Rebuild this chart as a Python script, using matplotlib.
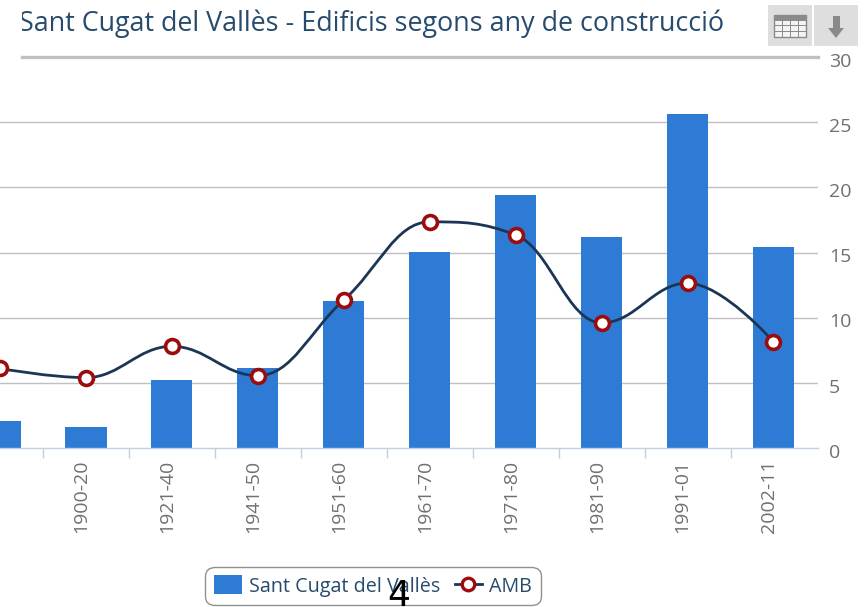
import matplotlib
matplotlib.use("Agg")
import matplotlib.pyplot as plt
from matplotlib.path import Path
from matplotlib.patches import PathPatch, Rectangle
from matplotlib.lines import Line2D
from matplotlib.transforms import Bbox, ScaledTranslation
import numpy as np

categories = ["", "1900-20", "1921-40", "1941-50", "1951-60", "1961-70", "1971-80", "1981-90", "1991-01", "2002-11"]
sant_cugat = [2.1, 1.6, 5.25, 6.15, 11.25, 15.05, 19.4, 16.2, 25.6, 15.4]
amb = [6.1, 5.4, 7.8, 5.55, 11.35, 17.35, 16.35, 9.6, 12.65, 8.15]
yticks = [0, 5, 10, 15, 20, 25, 30]
title = "Sant Cugat del Vallès - Edificis segons any de construcció"

W, H = 865, 607
TEXT = "#274b6d"
FONT = "Open Sans"
fig = plt.figure(figsize=(W / 100, H / 100), dpi=100)
plt.rcParams["font.family"] = [FONT, "DejaVu Sans"]

def fx(x): return x / W
def fy(y): return 1 - y / H

L, R, T, B = 0, 818, 57, 448
ax = fig.add_axes([fx(L), fy(B), fx(R - L), (B - T) / H])
x = np.arange(len(categories))
STEP = 86.7
X1 = 79.5
ax.set_xlim(1 - X1 / STEP, 1 + (R - X1) / STEP)
ax.set_ylim(0, 30)
for s in ["top", "left", "right"]:
    ax.spines[s].set_visible(False)
ax.spines["bottom"].set_color("#C0D0E0")
ax.spines["bottom"].set_linewidth(1.0)
ax.set_axisbelow(True)

for v in yticks[1:-1]:
    ax.axhline(v, color="#C0C0C0", lw=1.0, zorder=0)

ax.bar(x, sant_cugat, width=41.5 / STEP, color="#2E7BD6", zorder=2, label="Sant Cugat del Vallès")

def spline_path(xs, ys, smoothing=1.5):
    denom = smoothing + 1
    verts, codes = [(xs[0], ys[0])], [Path.MOVETO]
    n = len(xs)
    right_prev = (xs[0], ys[0])
    for i in range(1, n):
        px, py = xs[i], ys[i]
        if i < n - 1:
            lx0, ly0 = xs[i - 1], ys[i - 1]
            nx, ny = xs[i + 1], ys[i + 1]
            lcx = (smoothing * px + lx0) / denom
            lcy = (smoothing * py + ly0) / denom
            rcx = (smoothing * px + nx) / denom
            rcy = (smoothing * py + ny) / denom
            corr = (rcy - lcy) * (rcx - px) / (rcx - lcx) + py - rcy
            lcy += corr
            rcy += corr
            if lcy > max(ly0, py):
                lcy = max(ly0, py); rcy = 2 * py - lcy
            elif lcy < min(ly0, py):
                lcy = min(ly0, py); rcy = 2 * py - lcy
            if rcy > max(ny, py):
                rcy = max(ny, py); lcy = 2 * py - rcy
            elif rcy < min(ny, py):
                rcy = min(ny, py); lcy = 2 * py - rcy
        else:
            lcx, lcy, rcx, rcy = px, py, px, py
        verts += [right_prev, (lcx, lcy), (px, py)]
        codes += [Path.CURVE4] * 3
        right_prev = (rcx, rcy)
    return Path(verts, codes)

LINE = "#1B3655"
RED = "#9C0C0C"
ax.add_patch(PathPatch(spline_path(list(x), amb), fill=False, edgecolor=LINE, lw=2.0, zorder=3))
ax.plot(x, amb, ls="none", marker="o", ms=10, mfc="white", mec=RED, mew=2.6, zorder=4)

ax.set_xticks(x)
ax.set_xticklabels(categories, rotation=90, color="#707070", fontsize=14)
ax.tick_params(axis="x", which="major", length=0, pad=8.5)
offx = ScaledTranslation(-3.5 / 72, 0, fig.dpi_scale_trans)
for t in ax.get_xticklabels():
    t.set_transform(t.get_transform() + offx)
ax.set_xticks(x[:-1] + 0.5, minor=True)
ax.tick_params(axis="x", which="minor", length=7, width=1.0, color="#C0D0E0")

ax.yaxis.tick_right()
ax.set_yticks(yticks)
ax.set_yticklabels([str(v) for v in yticks], color="#707070", fontsize=14)
ax.tick_params(axis="y", length=0, pad=8)
off = ScaledTranslation(0, -2 / 72, fig.dpi_scale_trans)
for t in ax.get_yticklabels():
    t.set_transform(t.get_transform() + off)

fig.add_artist(Line2D([fx(22), fx(818)], [fy(57), fy(57)], color="#C0C0C0", lw=2.4))

t = fig.text(fx(19), fy(24), title, fontsize=19.4, color=TEXT, va="center", ha="left", family=FONT)
t.set_clip_box(Bbox([[22, 0], [W, H]]))
t.set_clip_on(True)

# export buttons
fig.add_artist(Rectangle((fx(768), fy(46)), 44 / W, 41 / H, transform=fig.transFigure, fc="#DEDEDE", ec="none"))
fig.add_artist(Rectangle((fx(814), fy(46)), 44 / W, 41 / H, transform=fig.transFigure, fc="#DEDEDE", ec="none"))
ICON = "#8A8A8A"
fig.add_artist(Rectangle((fx(774), fy(37)), 32 / W, 22 / H, transform=fig.transFigure, fc="#F4F4F4", ec=ICON, lw=1.0))
fig.add_artist(Rectangle((fx(774), fy(20)), 32 / W, 5 / H, transform=fig.transFigure, fc=ICON, ec="none"))
for i in range(1, 4):
    fig.add_artist(Line2D([fx(774 + 8 * i)] * 2, [fy(37), fy(15)], color=ICON, lw=0.7))
for yy in [20, 25, 31]:
    fig.add_artist(Line2D([fx(774), fx(806)], [fy(yy)] * 2, color=ICON, lw=0.7))
fig.add_artist(Rectangle((fx(832.5), fy(29)), 7 / W, 13 / H, transform=fig.transFigure, fc=ICON, ec="none"))
fig.add_artist(plt.Polygon([[fx(828), fy(28)], [fx(844), fy(28)], [fx(836), fy(38)]], transform=fig.transFigure, fc=ICON, ec="none"))

handles = [Rectangle((0, 0), 1, 1, fc="#2E7BD6", ec="none"),
           Line2D([], [], color=LINE, lw=2, marker="o", ms=9, mfc="white", mec=RED, mew=2.4)]
leg = fig.legend(handles, ["Sant Cugat del Vallès", "AMB"], loc="center", bbox_to_anchor=(fx(373), fy(586)),
                 ncol=2, frameon=True, labelcolor=TEXT, edgecolor="#909090", facecolor="white",
                 framealpha=1, fancybox=True, handlelength=1.4, handleheight=1.1, handletextpad=0.35, columnspacing=0.75,
                 borderpad=0.45, prop={"family": FONT, "size": 14.2})
leg.get_frame().set_linewidth(1.0)
leg.get_frame().set_boxstyle("round", pad=0, rounding_size=0.5)

fig.text(fx(399), fy(596), "4", fontsize=26, color="black", ha="center", va="center", family="DejaVu Sans", zorder=10)

fig.savefig("out.png", dpi=100)
